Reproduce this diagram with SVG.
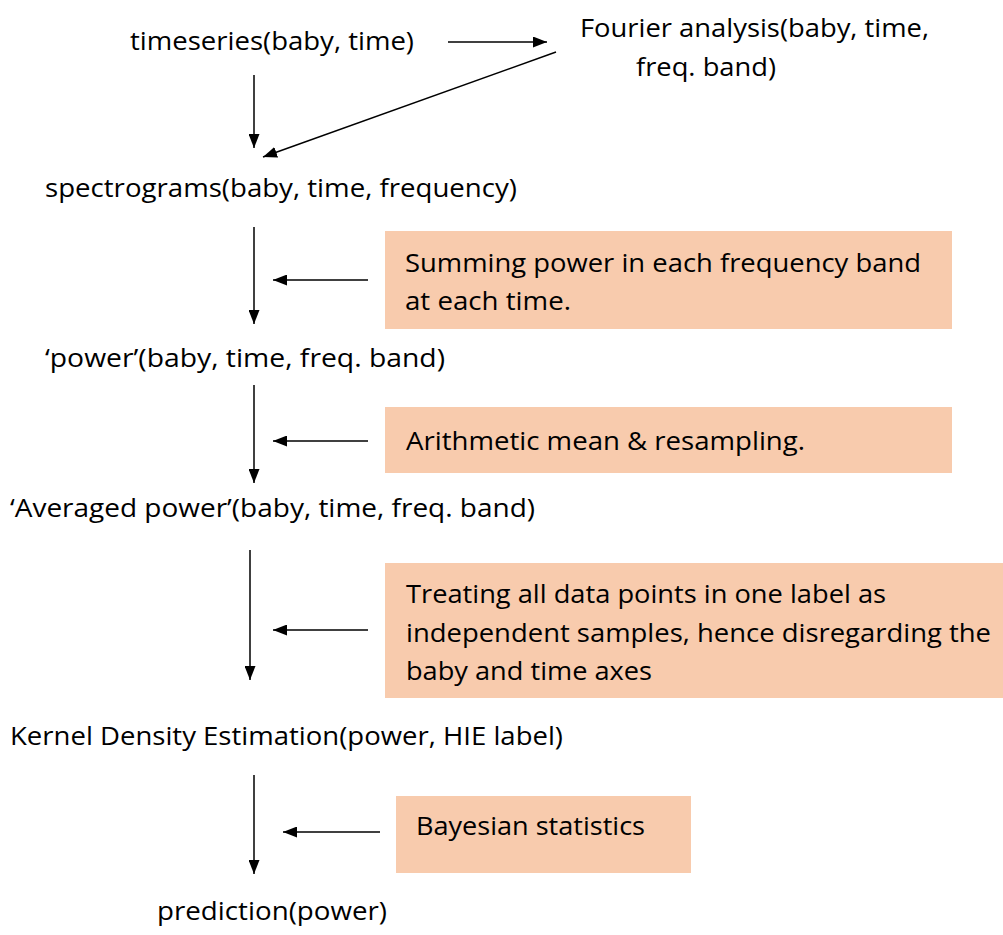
<svg xmlns="http://www.w3.org/2000/svg" width="1003" height="935" viewBox="0 0 1003 935">
<style>
text{font-family:"Open Sans","Noto Sans","Liberation Sans",sans-serif;font-size:25px;fill:#000;}
.box{fill:#F8CBAD;}
.c line{stroke:#000;stroke-width:1.5;marker-end:url(#ah);}
</style>
<defs>
<marker id="ah" markerUnits="userSpaceOnUse" markerWidth="14" markerHeight="11" refX="14" refY="5.5" orient="auto">
<path d="M0,0 L14,5.5 L0,11 z" fill="#000"/>
</marker>
</defs>
<rect width="1003" height="935" fill="#fff"/>
<g id="n-timeseries"><text x="130" y="50" textLength="284" lengthAdjust="spacingAndGlyphs">timeseries(baby, time)</text></g>
<g id="n-fourier"><text x="580" y="37" textLength="349" lengthAdjust="spacingAndGlyphs">Fourier analysis(baby, time,</text><text x="636" y="76" textLength="140" lengthAdjust="spacingAndGlyphs">freq. band)</text></g>
<g id="n-spectrograms"><text x="45" y="197" textLength="472" lengthAdjust="spacingAndGlyphs">spectrograms(baby, time, frequency)</text></g>
<g id="n-box1"><rect class="box" x="385" y="231" width="567" height="98"/><text x="405" y="272" textLength="516" lengthAdjust="spacingAndGlyphs">Summing power in each frequency band</text><text x="405" y="310" textLength="166" lengthAdjust="spacingAndGlyphs">at each time.</text></g>
<g id="n-power"><text x="45" y="367" textLength="400" lengthAdjust="spacingAndGlyphs">‘power’(baby, time, freq. band)</text></g>
<g id="n-box2"><rect class="box" x="385" y="407" width="567" height="66"/><text x="406" y="450" textLength="399" lengthAdjust="spacingAndGlyphs">Arithmetic mean &amp; resampling.</text></g>
<g id="n-averaged"><text x="10" y="517" textLength="525" lengthAdjust="spacingAndGlyphs">‘Averaged power’(baby, time, freq. band)</text></g>
<g id="n-box3"><rect class="box" x="385" y="563" width="618" height="135"/><text x="406" y="603" textLength="480" lengthAdjust="spacingAndGlyphs">Treating all data points in one label as</text><text x="406" y="642" textLength="585" lengthAdjust="spacingAndGlyphs">independent samples, hence disregarding the</text><text x="406" y="680" textLength="246" lengthAdjust="spacingAndGlyphs">baby and time axes</text></g>
<g id="n-kde"><text x="10" y="745" textLength="553" lengthAdjust="spacingAndGlyphs">Kernel Density Estimation(power, HIE label)</text></g>
<g id="n-box4"><rect class="box" x="396" y="796" width="295" height="77"/><text x="416" y="835" textLength="229" lengthAdjust="spacingAndGlyphs">Bayesian statistics</text></g>
<g id="n-prediction"><text x="157" y="920" textLength="230" lengthAdjust="spacingAndGlyphs">prediction(power)</text></g>
<g id="connectors" class="c">
<line x1="448" y1="42" x2="547" y2="42"/>
<line x1="254" y1="75" x2="254" y2="148"/>
<line x1="556" y1="52" x2="263" y2="157"/>
<line x1="254" y1="227" x2="254" y2="324"/>
<line x1="368" y1="280" x2="273" y2="280"/>
<line x1="254" y1="385" x2="254" y2="483"/>
<line x1="368" y1="441" x2="273" y2="441"/>
<line x1="250" y1="550" x2="250" y2="680"/>
<line x1="368" y1="630" x2="273" y2="630"/>
<line x1="254" y1="775" x2="254" y2="874"/>
<line x1="380" y1="832" x2="283" y2="832"/>
</g>
</svg>
